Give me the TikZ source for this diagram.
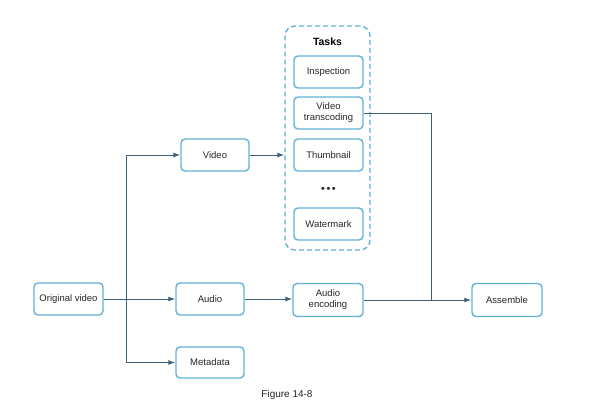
\documentclass[tikz,border=0pt]{standalone}
\usepackage{fontspec}
\setmainfont{Liberation Sans}
\usetikzlibrary{arrows.meta,positioning}
\definecolor{boxc}{HTML}{62B3D4}
\definecolor{linec}{HTML}{3E6178}
\tikzset{
  box/.style={draw=boxc, line width=1.4pt, rounded corners=4pt, fill=white,
    minimum width=69pt, minimum height=32pt, inner sep=1pt, align=center,
    font=\fontsize{9.5}{11}\selectfont, text=black!85},
  group/.style={draw=boxc, line width=1.4pt, rounded corners=10pt,
    dash pattern=on 5pt off 3pt, minimum width=85pt, minimum height=224pt},
  conn/.style={draw=linec, line width=1pt},
  arr/.style={conn, -{Latex[length=7pt,width=5pt]}},
}
\begin{document}
\begin{tikzpicture}[x=1pt,y=-1pt]
\useasboundingbox[fill=white] (0,0) rectangle (601,408);
\node[group] (tasks) at (327.5,138) {};
\node[font=\bfseries\fontsize{10.5}{12}\selectfont] (ttl) at (327.5,42) {Tasks};
\node[box] (insp) at (328.5,72) {Inspection};
\node[box] (vt) at (328.5,113) {Video\\transcoding};
\node[box] (thumb) at (328.5,155) {Thumbnail};
\node[font=\fontsize{11}{12}\selectfont, text=black!85] (dots) at (328.5,190) {•\hspace{1.5pt}•\hspace{1.5pt}•};
\node[box] (water) at (328.5,224) {Watermark};
\node[box] (orig) at (68.5,299) {Original video};
\node[box, minimum width=68pt] (video) at (215,155) {Video};
\node[box, minimum width=68pt] (audio) at (210,299) {Audio};
\node[box, minimum width=68pt, minimum height=31pt] (meta) at (210,362.5) {Metadata};
\node[box, minimum width=70pt, minimum height=33pt] (aenc) at (328,300) {Audio\\encoding};
\node[box, minimum width=70pt, minimum height=33pt] (asm) at (507,300) {Assemble};
\node[font=\fontsize{10}{11}\selectfont, text=black!85] (cap) at (287,395) {Figure 14-8};
\coordinate (j1) at (126,299);
\coordinate (j2) at (431,300);
\draw[arr] (orig.east) -- (audio.west);
\draw[arr] (j1) |- (video.west);
\draw[arr] (j1) |- (meta.west);
\draw[arr] (video.east) -- (video.east -| tasks.west);
\draw[arr] (audio.east) -- (audio.east -| aenc.west);
\draw[arr] (aenc.east) -- (asm.west);
\draw[conn] (vt.east) -| (j2);
\end{tikzpicture}
\end{document}
